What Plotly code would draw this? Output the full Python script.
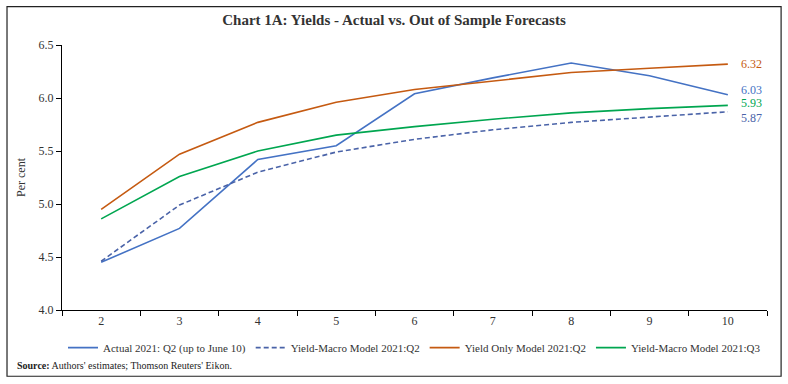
import plotly.graph_objects as go

tenors = ["2", "3", "4", "5", "6", "7", "8", "9", "10"]
actual = [4.45, 4.77, 5.42, 5.55, 6.04, 6.19, 6.33, 6.21, 6.03]
yield_macro_q2 = [4.46, 4.99, 5.30, 5.49, 5.61, 5.70, 5.77, 5.82, 5.87]
yield_only_q2 = [4.95, 5.47, 5.77, 5.96, 6.08, 6.16, 6.24, 6.28, 6.32]
yield_macro_q3 = [4.86, 5.26, 5.50, 5.65, 5.73, 5.80, 5.86, 5.90, 5.93]

names = ["Actual 2021: Q2 (up to June 10)", "Yield-Macro Model 2021:Q2",
         "Yield Only Model 2021:Q2", "Yield-Macro Model 2021:Q3"]
colors = ["#4472C4", "#4A63A8", "#C55A11", "#00A650"]
dashes = ["solid", "5px,3px", "solid", "solid"]
series = [actual, yield_macro_q2, yield_only_q2, yield_macro_q3]

FONT = "Liberation Serif"

fig = go.Figure()
for nm, ys, c, d in zip(names, series, colors, dashes):
    fig.add_trace(go.Scatter(x=tenors, y=ys, mode="lines", name=nm,
                             line=dict(color=c, width=1.6, dash=d)))

# end labels (x given as category index of last tenor)
last_idx = len(tenors) - 1
label_shift = [5, -6, 0, 2]
for ys, c, sh in zip(series, colors, label_shift):
    fig.add_annotation(x=last_idx, y=ys[-1], text=f"{ys[-1]:.2f}", showarrow=False,
                       xanchor="left", xshift=11, yshift=sh,
                       font=dict(family=FONT, size=12, color=c))

fig.add_annotation(xref="paper", yref="paper", x=-0.066, y=-0.208, xanchor="left", yanchor="middle",
                   text="<b>Source:</b> Authors' estimates; Thomson Reuters' Eikon.", showarrow=False,
                   font=dict(family=FONT, size=10, color="#222"))

fig.add_shape(type="rect", xref="paper", yref="paper", x0=-0.078, x1=1.02, y0=-0.25, y1=1.145,
              line=dict(color="#222", width=1.2))

fig.update_layout(
    width=788, height=384,
    margin=dict(l=62, r=21, t=45, b=74),
    paper_bgcolor="white", plot_bgcolor="white",
    font=dict(family=FONT, size=12, color="#333"),
    title=dict(text="<b>Chart 1A: Yields - Actual vs. Out of Sample Forecasts</b>",
               x=0.5, xanchor="center", y=0.948, yanchor="middle",
               font=dict(family=FONT, size=15, color="#333")),
    showlegend=True,
    legend=dict(orientation="h", x=0.5, xanchor="center", y=-0.142, yanchor="middle",
                font=dict(family=FONT, size=11, color="#333"), itemwidth=30,
                tracegroupgap=0),
)
fig.update_xaxes(type="category", range=[-0.5, 8.5], autorange=False, showline=True,
                 linecolor="#000", linewidth=1,
                 ticks="outside", ticklen=5, tickcolor="#000", tickson="boundaries",
                 showgrid=False, tickfont=dict(family=FONT, size=12, color="#333"))
fig.update_yaxes(range=[4, 6.5], dtick=0.5, tickformat=".1f", showline=True, linecolor="#000",
                 linewidth=1, ticks="outside", ticklen=5, tickcolor="#000", showgrid=False,
                 zeroline=False, title=dict(text="Per cent", font=dict(family=FONT, size=12, color="#333"), standoff=10),
                 tickfont=dict(family=FONT, size=12, color="#333"))

fig.write_html("out.html", config={"displayModeBar": False},
               post_script="document.body.style.margin='0';")
